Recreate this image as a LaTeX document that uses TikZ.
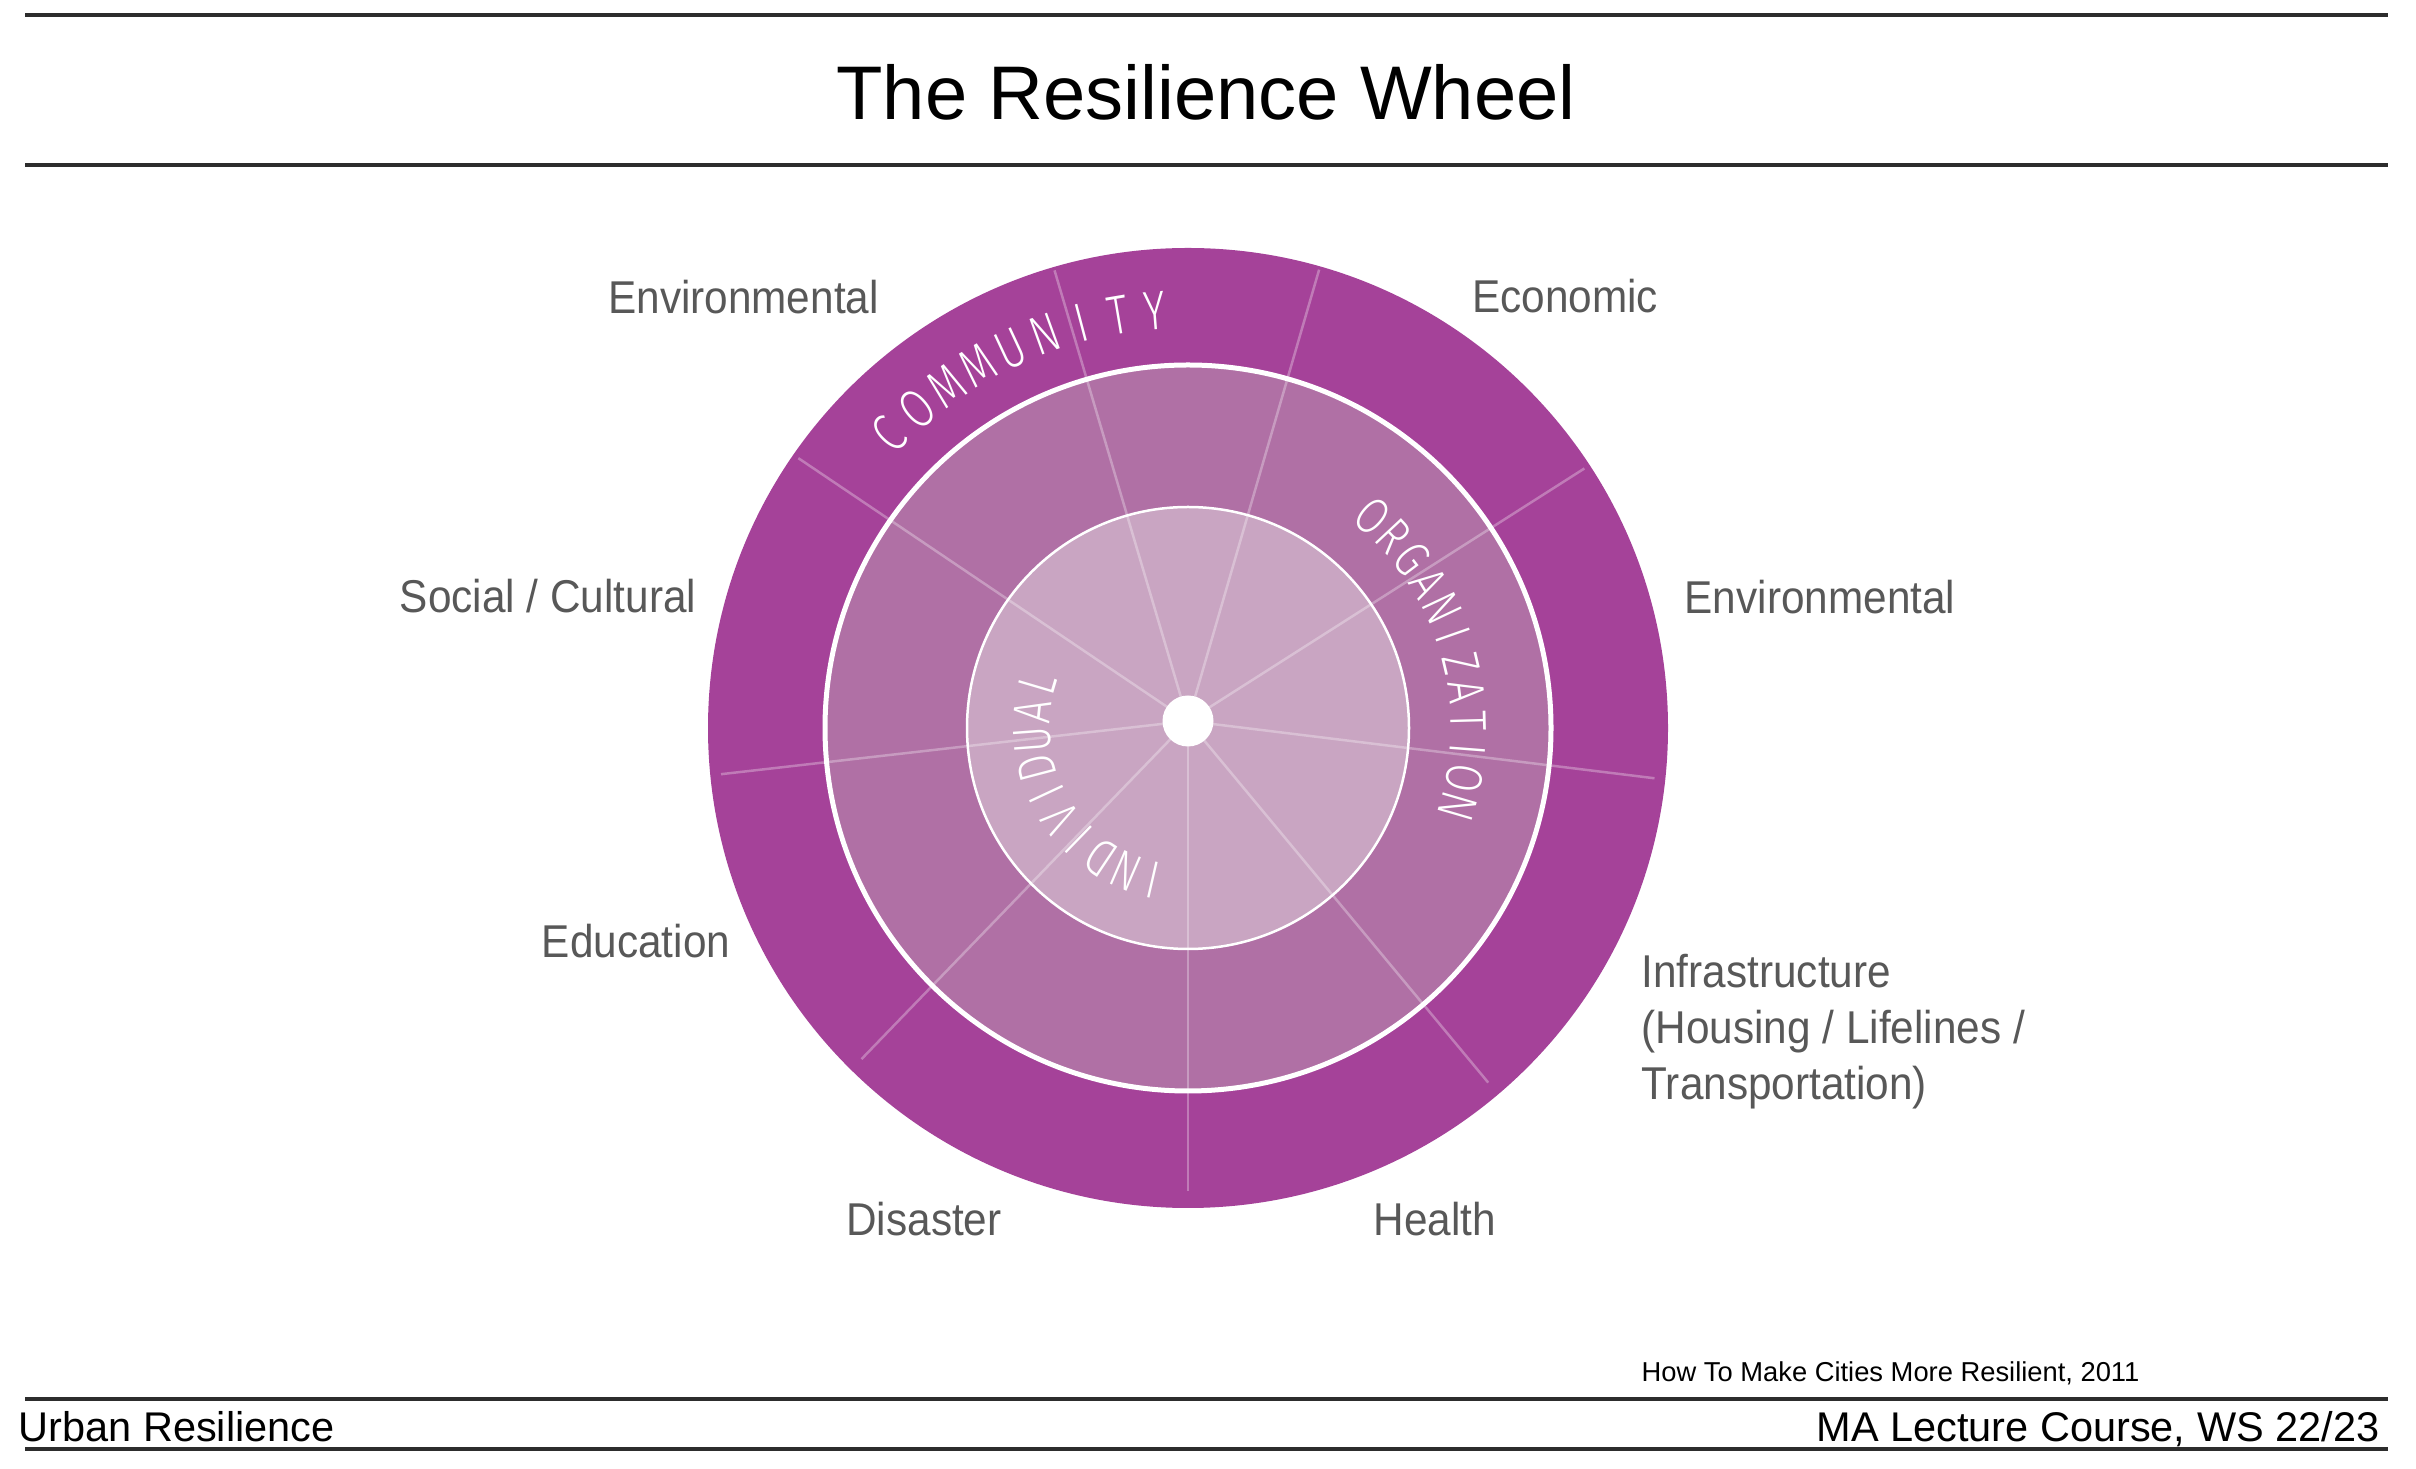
\documentclass[tikz,border=0pt]{standalone}
\usepackage{fontspec}
\setmainfont{Liberation Sans}
\newfontfamily\labelfont[FakeStretch=0.92]{Liberation Sans}
\newfontfamily\commfam[FakeStretch=0.75]{Fira Sans Light}
\newfontfamily\orgfam[FakeStretch=0.78]{Fira Sans Light}
\newfontfamily\indfam[FakeStretch=0.75]{Fira Sans Light}
\definecolor{outerc}{RGB}{165,66,153}
\definecolor{midc}{RGB}{176,112,165}
\definecolor{innerc}{RGB}{201,165,194}
\definecolor{labelc}{RGB}{88,88,88}
\definecolor{rulec}{RGB}{45,45,45}
\newcommand\commfont{\commfam\fontsize{16.5pt}{18pt}\selectfont}
\newcommand\orgfont{\orgfam\fontsize{15.5pt}{17pt}\selectfont}
\newcommand\indfont{\indfam\fontsize{16pt}{18pt}\selectfont}
\newlength\chw
% #1 name prefix, #2 font, #3 baseline radius, #4 start angle, #5 end angle, #6 letters
\newcommand\arcword[6]{%
  \gdef\awtot{0}\gdef\awn{0}%
  \foreach \ch in {#6}{%
    \settowidth\chw{#2\ch}%
    \pgfmathsetmacro\awtmp{\awtot+\chw}\global\let\awtot\awtmp
    \pgfmathtruncatemacro\awtmpn{\awn+1}\global\let\awn\awtmpn}%
  \pgfmathsetmacro\awlen{#3*0.3*(#4-(#5))*pi/180}%
  \pgfmathsetmacro\awgap{(\awlen-\awtot)/(\awn-1)}%
  \gdef\awpos{0}%
  \foreach \ch [count=\i] in {#6}{%
    \settowidth\chw{#2\ch}%
    \pgfmathsetmacro\awang{#4-(\awpos+\chw/2)/(#3*0.3)*180/pi}%
    \pgfmathsetmacro\awrot{\awang-90}%
    \node[wheelletter, font=#2, rotate=\awrot] (#1\i) at ([shift={(\awang:#3)}]C) {\ch};
    \pgfmathsetmacro\awtmp{\awpos+\chw+\awgap}\global\let\awpos\awtmp}%
}
\begin{document}
\begin{tikzpicture}[x=0.3pt,y=0.3pt,
  rulestyle/.style={draw=rulec, line width=1pt},
  labelstyle/.style={font=\labelfont\fontsize{13.8pt}{16pt}\selectfont, text=labelc, inner sep=0pt},
  footstyle/.style={font=\fontsize{12.45pt}{15pt}\selectfont, text=black, inner sep=0pt},
  spokestyle/.style={draw=white, draw opacity=0.3, line width=0.75pt},
  ringstyle/.style={draw=white, line width=1.5pt},
  innerring/.style={draw=white, line width=0.75pt},
  wheelletter/.style={inner sep=0pt, text=white, anchor=base}]
\fill[white] (0,0) rectangle (2416,1468);
\useasboundingbox (0,0) rectangle (2416,1468);
% rules
\coordinate (r1a) at (25,1453); \coordinate (r1b) at (2388,1453);
\coordinate (r2a) at (25,1303); \coordinate (r2b) at (2388,1303);
\coordinate (r3a) at (25,69);   \coordinate (r3b) at (2388,69);
\coordinate (r4a) at (25,19);   \coordinate (r4b) at (2388,19);
\draw[rulestyle] (r1a) -- (r1b);
\draw[rulestyle] (r2a) -- (r2b);
\draw[rulestyle] (r3a) -- (r3b);
\draw[rulestyle] (r4a) -- (r4b);
% title
\node[font=\fontsize{22.8pt}{26pt}\selectfont, anchor=base, inner sep=0pt] (title) at (1206,1348) {The Resilience Wheel};
% wheel
\coordinate (C) at (1188,740);
\coordinate (D) at (1188,747);
\fill[outerc] (C) circle[radius=480];
\fill[midc] (C) circle[radius=363];
\fill[innerc] (C) circle[radius=221];
\foreach \a in {146,106.5,73.8,32.5,-7,-50.3,-90,226,186.5}
  \draw[spokestyle] (D) -- ++(\a:470);
\draw[ringstyle] (C) circle[radius=363];
\draw[innerring] (C) circle[radius=221];
\fill[white] (D) circle[radius=25.5];
% curved texts
\arcword{comm}{\commfont}{400}{135.5}{94.5}{C,O,M,M,U,N,I,T,Y}
\arcword{org}{\orgfont}{263}{49}{-16.3}{O,R,G,A,N,I,Z,A,T,I,O,N}
\arcword{ind}{\indfont}{138}{257}{163.5}{I,N,D,I,V,I,D,U,A,L}
% labels
\node[labelstyle, anchor=base] (envtl) at (743.5,1154) {Environmental};
\node[labelstyle, anchor=base] (econ) at (1565,1155) {Economic};
\node[labelstyle, anchor=base] (envr) at (1820,854) {Environmental};
\node[labelstyle, anchor=base] (social) at (548,855) {Social / Cultural};
\node[labelstyle, anchor=base] (educ) at (636,510) {Education};
\node[labelstyle, anchor=base west] (infra1) at (1641,480) {Infrastructure};
\node[labelstyle, anchor=base west] (infra2) at (1641,424) {(Housing / Lifelines /};
\node[labelstyle, anchor=base west] (infra3) at (1641,368) {Transportation)};
\node[labelstyle, anchor=base] (dis) at (924,233) {Disaster};
\node[labelstyle, anchor=base] (hea) at (1435,233) {Health};
% footer
\node[font=\fontsize{8.2pt}{10pt}\selectfont, anchor=base west, inner sep=0pt] (cite) at (1641,87) {How To Make Cities More Resilient, 2011};
\node[footstyle, anchor=base west] (course) at (18,27) {Urban Resilience};
\node[footstyle, anchor=base east] (lecture) at (2380,27) {MA Lecture Course, WS 22/23};
\end{tikzpicture}
\end{document}
